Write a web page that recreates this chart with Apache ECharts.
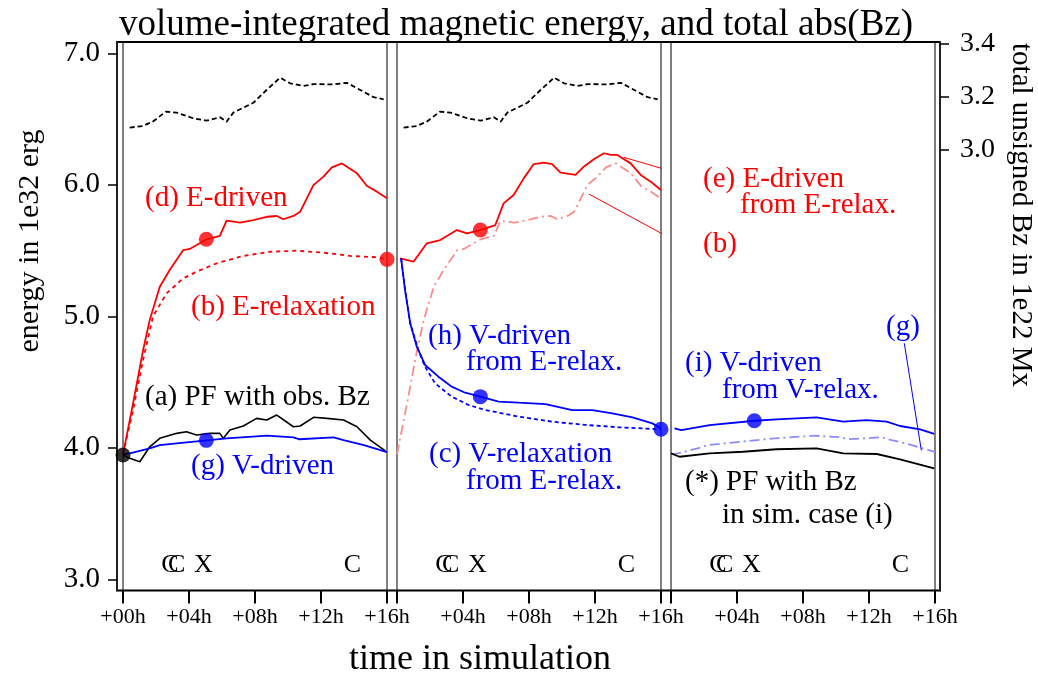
<!DOCTYPE html>
<html>
<head>
<meta charset="utf-8">
<script src="https://cdn.jsdelivr.net/npm/echarts@6/dist/echarts.min.js"></script>
<style>
html,body{margin:0;padding:0;background:#fff;}
#chart{width:1038px;height:679px;}
</style>
</head>
<body>
<div id="chart"></div>
<script>
// ---------- data ----------
// energy axis ticks (1e32 erg) and Bz axis ticks (1e22 Mx)
var energyTicks = [3.0, 4.0, 5.0, 6.0, 7.0];
var bzTicks = [3.0, 3.2, 3.4];
var hourLabelsFirst = [0, 4, 8, 12, 16];
var hourLabelsOther = [4, 8, 12, 16];

// total unsigned Bz (black dashed, right axis)
var bzT = [0.4, 1.2, 1.8, 2.6, 3.25, 4.25, 5.06, 5.87, 6.28, 6.68, 7.9, 8.7, 9.52, 10.13, 10.94, 11.55, 12.76, 13.57, 14.38, 15.19, 15.8];
var bzV = [3.084, 3.090, 3.106, 3.144, 3.140, 3.119, 3.110, 3.123, 3.106, 3.140, 3.177, 3.225, 3.271, 3.250, 3.240, 3.247, 3.246, 3.252, 3.225, 3.198, 3.190];

// (d) E-driven
var dT = [0, 0.61, 1.22, 1.62, 2.23, 2.83, 3.65, 4.05, 5.07, 5.87, 6.28, 7.09, 7.9, 8.71, 9.32, 9.72, 10.33, 10.74, 11.54, 12.15, 12.66, 13.27, 14.18, 14.79, 15.39, 16];
var dE = [3.95, 4.338, 4.744, 4.972, 5.225, 5.352, 5.504, 5.512, 5.586, 5.611, 5.727, 5.712, 5.732, 5.757, 5.763, 5.738, 5.763, 5.796, 5.998, 6.062, 6.133, 6.163, 6.087, 5.991, 5.948, 5.897];

// (b) E-relaxation
var bT = [0, 0.6, 1.2, 1.82, 2.64, 3.65, 4.46, 5.67, 7.29, 8.91, 10.53, 12.15, 13.77, 15.39, 16];
var bE = [3.95, 4.28, 4.66, 5.00, 5.175, 5.289, 5.339, 5.403, 5.459, 5.491, 5.499, 5.484, 5.459, 5.449, 5.433];

// (a) PF with obs. Bz
var aT = [0, 0.41, 1.02, 1.62, 2.23, 3.25, 3.85, 4.46, 5.27, 5.87, 6.08, 6.48, 7.29, 8.1, 8.71, 9.32, 10.33, 10.74, 11.55, 12.36, 13.37, 14.18, 14.99, 15.9];
var aE = [3.945, 3.920, 3.894, 4.008, 4.072, 4.110, 4.122, 4.097, 4.110, 4.110, 4.072, 4.135, 4.166, 4.224, 4.211, 4.249, 4.160, 4.166, 4.232, 4.224, 4.211, 4.160, 4.059, 3.976];

// (g) V-driven
var gT = [0, 0.41, 1.62, 2.23, 3.25, 5.07, 6.28, 8.3, 8.71, 10.33, 10.7, 12.76, 13.37, 14.6, 16];
var gE = [3.95, 3.958, 3.996, 4.021, 4.034, 4.057, 4.072, 4.089, 4.092, 4.080, 4.065, 4.080, 4.059, 4.021, 3.968];

// (e) E-driven from E-relax.
var eT = [0.19, 1.0, 1.81, 2.62, 3.63, 4.24, 5.05, 5.96, 6.46, 7.07, 7.68, 8.29, 8.89, 9.4, 9.91, 10.82, 11.32, 11.93, 12.54, 12.95, 13.35, 14.16, 14.77, 15.38, 15.99];
var eE = [5.441, 5.415, 5.555, 5.580, 5.656, 5.631, 5.656, 5.694, 5.859, 5.922, 6.049, 6.158, 6.168, 6.158, 6.092, 6.075, 6.138, 6.194, 6.240, 6.227, 6.227, 6.163, 6.075, 6.024, 5.961];

// (h) V-driven from E-relax.
var hT = [0.25, 0.49, 0.8, 1.2, 1.7, 2.51, 3.32, 4.13, 5.05, 6.16, 7.38, 9.0, 10.62, 11.84, 13.05, 14.27, 15.48, 16];
var hE = [5.441, 5.200, 4.947, 4.769, 4.630, 4.541, 4.465, 4.419, 4.389, 4.351, 4.343, 4.333, 4.287, 4.287, 4.262, 4.232, 4.186, 4.148];

// (c) V-relaxation from E-relax.
var cT = [0.25, 0.49, 0.8, 1.3, 1.7, 2.31, 3.32, 4.33, 5.35, 7.38, 9.4, 11.42, 13.45, 16];
var cE = [5.441, 5.200, 4.947, 4.743, 4.617, 4.490, 4.389, 4.326, 4.288, 4.237, 4.199, 4.174, 4.156, 4.141];

// (i) V-driven from V-relax.
var iT = [0.21, 0.62, 2.34, 5.07, 6.39, 8.82, 10.44, 11.86, 13.07, 13.88, 15.1, 15.95];
var iE = [4.148, 4.135, 4.173, 4.206, 4.217, 4.232, 4.199, 4.211, 4.199, 4.166, 4.141, 4.106];

// (*) PF with Bz in sim. case (i)
var kT = [0, 0.52, 2.34, 4.37, 6.39, 8.82, 10.44, 12.47, 13.88, 15.95];
var kE = [3.958, 3.932, 3.958, 3.970, 3.989, 3.996, 3.958, 3.953, 3.913, 3.844];

// flare events (GOES class) marked near the bottom of each panel
var flareT = [2.85, 3.25, 4.87, 13.9];
var flareClass = ['C', 'C', 'X', 'C'];
var flareLevel = 3.11;

// snapshot dots
var dotsP1 = [[0, 3.945, 'black'], [5.05, 5.586, 'red'], [5.05, 4.057, 'blue'], [16, 5.433, 'red']];
var dotsP2 = [[5.05, 5.656, 'red'], [5.05, 4.389, 'blue'], [16, 4.141, 'blue']];
var dotsP3 = [[5.05, 4.206, 'blue']];

// leader lines for the labels
var leadE = [[13.75, 6.209], [18.07, 6.05]];
var leadB = [[11.63, 5.930], [18.07, 5.491]];
var leadG = [[14.14, 4.795], [15.17, 3.981]];

// ---------- chart ----------
var EMIN = 2.915, EMAX = 7.086;
var BMIN = 1.3487, BMAX = 3.4049;
var FONT = '"Liberation Serif", "Times New Roman", serif';
var RED = '#ff0000', BLUE = '#0000ff', PINK = '#ff8c8c', LBLUE = '#8c8cff';

function zip(t, v) { return t.map(function (x, i) { return [x, v[i]]; }); }

var TOP = 42, H = 548.5, PW = 264;
var panelLeft = [123, 397, 671];

var grids = [{ left: 117, top: TOP, width: 823, height: H, show: true, borderColor: '#000', borderWidth: 2, backgroundColor: 'rgba(0,0,0,0)' }];
var xAxes = [{ gridIndex: 0, type: 'value', min: 0, max: 1, show: false }];
var yAxes = [
  { gridIndex: 0, type: 'value', position: 'left', min: EMIN, max: EMAX,
    axisLine: { show: true, lineStyle: { color: '#222', width: 2 } },
    axisTick: { show: true, length: 9, customValues: energyTicks, lineStyle: { color: '#000', width: 1.5 } },
    axisLabel: { show: true, customValues: energyTicks, formatter: function (v) { return v.toFixed(1); }, fontFamily: FONT, fontSize: 29, color: '#000', margin: 17 },
    splitLine: { show: false } },
  { gridIndex: 0, type: 'value', position: 'right', min: BMIN, max: BMAX,
    axisLine: { show: true, lineStyle: { color: '#222', width: 2 } },
    axisTick: { show: true, length: 9, customValues: bzTicks, lineStyle: { color: '#000', width: 1.5 } },
    axisLabel: { show: true, customValues: bzTicks, formatter: function (v) { return v.toFixed(1); }, fontFamily: FONT, fontSize: 28, color: '#000', margin: 20 },
    splitLine: { show: false } }
];
for (var p = 0; p < 3; p++) {
  grids.push({ left: panelLeft[p], top: TOP, width: PW, height: H, show: true, borderColor: '#000', borderWidth: 1, backgroundColor: 'rgba(0,0,0,0)' });
  xAxes.push({ gridIndex: p + 1, type: 'value', min: 0, max: 16, interval: 4,
    axisLine: { show: true, lineStyle: { color: '#000', width: 1 } },
    axisTick: { show: true, length: 13, lineStyle: { color: '#000', width: 2 } },
    axisLabel: { show: true, customValues: p === 0 ? hourLabelsFirst : hourLabelsOther,
      fontFamily: FONT, fontSize: 22, color: '#000', margin: 16,
      formatter: function (v) { return '+' + (v < 10 ? '0' : '') + v + 'h'; } },
    splitLine: { show: false } });
  yAxes.push({ gridIndex: p + 1, type: 'value', min: EMIN, max: EMAX, show: false, splitLine: { show: false } });
  yAxes.push({ gridIndex: p + 1, type: 'value', min: BMIN, max: BMAX, show: false, splitLine: { show: false } });
}

function lineS(name, panel, data, color, type, width, onBz) {
  return { name: name, type: 'line', xAxisIndex: panel, yAxisIndex: onBz ? 2 * panel + 1 : 2 * panel,
    data: data, showSymbol: false, symbol: 'none', silent: true, clip: false,
    lineStyle: { color: color, width: width || 1.8, type: type || 'solid' }, z: 3 };
}
function dotS(panel, dots) {
  return { type: 'scatter', xAxisIndex: panel, yAxisIndex: 2 * panel, symbolSize: 15, z: 5, silent: true,
    data: dots.map(function (d) { return { value: [d[0], d[1]], itemStyle: { color: d[2] } }; }) };
}
function flareS(panel) {
  return { type: 'scatter', xAxisIndex: panel, yAxisIndex: 2 * panel, symbolSize: 1, silent: true,
    itemStyle: { color: 'rgba(255,255,255,0)' },
    label: { show: true, position: 'inside', formatter: '{b}', fontFamily: FONT, fontSize: 26, color: '#000',
      textBorderWidth: 0, opacity: 1 },
    data: flareT.map(function (t, i) { return { name: flareClass[i], value: [t, flareLevel] }; }) };
}

var series = [
  // panel 1
  lineS('abs(Bz)', 1, zip(bzT, bzV), '#000', [5, 3], 1.8, true),
  lineS('(b) E-relaxation', 1, zip(bT, bE), RED, [4, 4], 1.8),
  lineS('(d) E-driven', 1, zip(dT, dE), RED, 'solid', 1.8),
  lineS('(a) PF with obs. Bz', 1, zip(aT, aE), '#000', 'solid', 1.6),
  lineS('(g) V-driven', 1, zip(gT, gE), BLUE, 'solid', 1.8),
  dotS(1, dotsP1), flareS(1),
  // panel 2
  lineS('abs(Bz)', 2, zip(bzT, bzV), '#000', [5, 3], 1.8, true),
  lineS('(b) copy', 2, zip(dT, dE), PINK, [10, 4, 2, 4], 1.8),
  lineS('(e) E-driven from E-relax.', 2, zip(eT, eE), RED, 'solid', 1.8),
  lineS('(c) V-relaxation from E-relax.', 2, zip(cT, cE), BLUE, [4, 3], 1.8),
  lineS('(h) V-driven from E-relax.', 2, zip(hT, hE), BLUE, 'solid', 1.8),
  lineS('lead e', 2, leadE, RED, 'solid', 1),
  lineS('lead b', 2, leadB, RED, 'solid', 1),
  dotS(2, dotsP2), flareS(2),
  // panel 3
  lineS('(g) copy', 3, zip(gT, gE), LBLUE, [10, 4, 2, 4], 1.8),
  lineS('(*) PF with Bz in sim. case (i)', 3, zip(kT, kE), '#000', 'solid', 1.8),
  lineS('(i) V-driven from V-relax.', 3, zip(iT, iE), BLUE, 'solid', 1.8),
  lineS('lead g', 3, leadG, BLUE, 'solid', 1),
  dotS(3, dotsP3), flareS(3)
];

function txt(s, x, y, color, size) {
  return { type: 'text', x: x, y: y, silent: true, z: 10,
    style: { text: s, fill: color, font: (size || 29) + 'px ' + FONT, align: 'left', verticalAlign: 'middle' } };
}
var graphics = [
  txt('(d) E-driven', 145, 198, RED),
  txt('(b) E-relaxation', 191, 307, RED),
  txt('(a) PF with obs. Bz', 145, 397, '#000'),
  txt('(g) V-driven', 191, 466, BLUE),
  txt('(h) V-driven', 428, 336, BLUE),
  txt('from E-relax.', 466, 362, BLUE),
  txt('(c) V-relaxation', 429, 454, BLUE),
  txt('from E-relax.', 466, 481, BLUE),
  txt('(e) E-driven', 703, 179, RED),
  txt('from E-relax.', 740, 205, RED),
  txt('(b)', 703, 244, RED),
  txt('(g)', 886, 327, BLUE),
  txt('(i) V-driven', 685, 363, BLUE),
  txt('from V-relax.', 722, 390, BLUE),
  txt('(*) PF with Bz', 685, 482, '#000'),
  txt('in sim. case (i)', 722, 515, '#000'),
  { type: 'text', x: 30, y: 241, rotation: Math.PI / 2, silent: true,
    style: { text: 'energy in 1e32 erg', fill: '#000', font: '30px ' + FONT, align: 'center', verticalAlign: 'middle' } },
  { type: 'text', x: 1021, y: 215, rotation: -Math.PI / 2, silent: true,
    style: { text: 'total unsigned Bz in 1e22 Mx', fill: '#000', font: '29px ' + FONT, align: 'center', verticalAlign: 'middle' } },
  { type: 'text', x: 480, y: 660, silent: true,
    style: { text: 'time in simulation', fill: '#000', font: '36px ' + FONT, align: 'center', verticalAlign: 'middle' } }
];

var chart = echarts.init(document.getElementById('chart'), null, { renderer: 'canvas' });
chart.setOption({
  animation: false,
  backgroundColor: '#fff',
  title: { text: 'volume-integrated magnetic energy, and total abs(Bz)', left: 511, top: 2, textAlign: 'center',
    textStyle: { fontFamily: FONT, fontSize: 37, fontWeight: 'normal', color: '#000' } },
  grid: grids,
  xAxis: xAxes,
  yAxis: yAxes,
  series: series,
  graphic: graphics
});
</script>
</body>
</html>
